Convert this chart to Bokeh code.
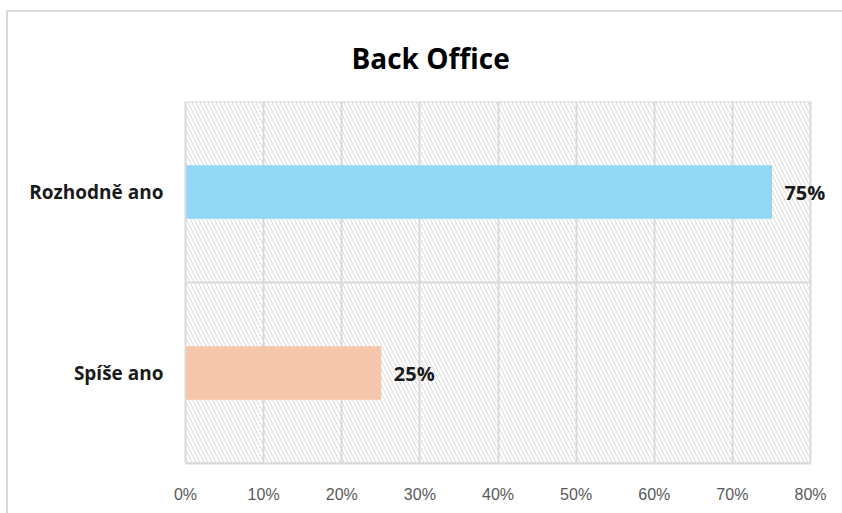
from bokeh.plotting import figure
from bokeh.layouts import column
from bokeh.models import ColumnDataSource, FixedTicker, LabelSet, Range1d
from bokeh.core.properties import value
from bokeh.embed import file_html
from bokeh.resources import INLINE

title = "Back Office"
categories = ["Spíše ano", "Rozhodně ano"]
values = [25, 75]
colors = ["#F5C6AA", "#93D8F5"]
x_ticks = [0, 10, 20, 30, 40, 50, 60, 70, 80]

n = len(categories)
xmax = x_ticks[-1]
ypos = [i + 0.5 for i in range(n)]
src = ColumnDataSource(dict(y=ypos, v=values, c=colors,
                            lbl=[f"{v}%" for v in values], cat=categories))

# frame: x 185..835, y 100..463
p = figure(width=834, height=501, output_backend="svg", toolbar_location=None,
           x_range=Range1d(0, xmax * 650 / 625), y_range=Range1d(0, n),
           min_border_left=177, min_border_right=7, min_border_top=88,
           min_border_bottom=50)
p.outline_line_color = None
p.background_fill_color = "white"
p.border_fill_color = "white"

# title
p.title.text = title
p.title.align = "left"
p.title.offset = 166
p.title.standoff = 49
p.title.text_font = "Open Sans"
p.title.text_font_style = "bold"
p.title.text_font_size = "28px"
p.title.text_color = "#000000"

# hatched plot-area background
p.quad(left=[0], right=[xmax], bottom=[0], top=[n], fill_alpha=0, line_alpha=0,
       hatch_pattern="left_diagonal_line", hatch_color="#d9d9d9",
       hatch_scale=8, hatch_weight=1, level="image")

# horizontal category separators
p.segment(x0=[0] * (n + 1), x1=[xmax] * (n + 1), y0=list(range(n + 1)),
          y1=list(range(n + 1)), line_color="#d9d9d9", line_width=2,
          level="underlay")

p.hbar(y="y", right="v", left=0, height=0.29, color="c", source=src)
p.add_layout(LabelSet(x="v", y="y", text="lbl", source=src, x_offset=13,
                      text_align="left", text_baseline="middle",
                      text_font=value("Open Sans"), text_font_style="bold",
                      text_font_size="20px", text_color="#1a1a1a"))

# grids
p.xgrid.ticker = FixedTicker(ticks=x_ticks)
p.xgrid.grid_line_color = "#d9d9d9"
p.xgrid.grid_line_width = 2
p.ygrid.grid_line_color = None

# x axis
xa = p.xaxis[0]
xa.ticker = FixedTicker(ticks=x_ticks)
xa.bounds = (0, xmax)
xa.major_label_overrides = {t: f"{t}%" for t in x_ticks}
xa.axis_line_color = "#d9d9d9"
xa.axis_line_width = 2
xa.major_tick_line_color = None
xa.minor_tick_line_color = None
xa.major_label_standoff = 16
xa.major_label_text_font = "Liberation Sans"
xa.major_label_text_font_size = "16px"
xa.major_label_text_color = "#595959"

# y axis
ya = p.yaxis[0]
ya.ticker = FixedTicker(ticks=ypos)
ya.major_label_overrides = {y: c for y, c in zip(ypos, categories)}
ya.axis_line_color = "#d9d9d9"
ya.axis_line_width = 2
ya.major_tick_line_color = None
ya.minor_tick_line_color = None
ya.major_label_standoff = 16
ya.major_label_text_font = "Open Sans"
ya.major_label_text_font_style = "bold"
ya.major_label_text_font_size = "19px"
ya.major_label_text_color = "#1a1a1a"

layout = column(p, margin=(10, 0, 0, 6),
                styles={"border-left": "2px solid #d9d9d9",
                        "border-top": "2px solid #d9d9d9"})

open("out.html", "w").write(file_html(layout, INLINE))
